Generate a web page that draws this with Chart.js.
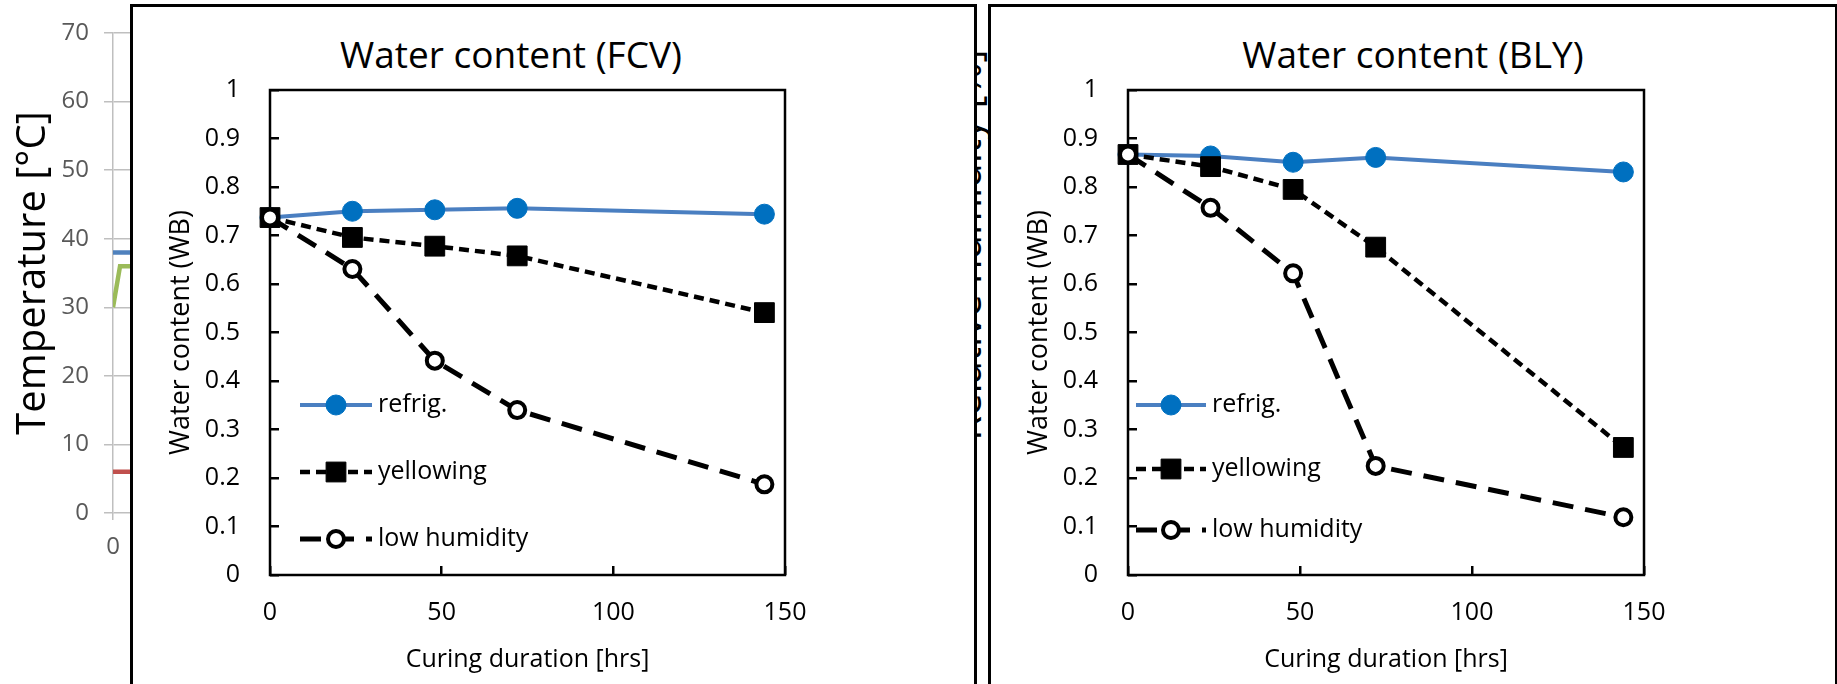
<!DOCTYPE html>
<html>
<head>
<meta charset="utf-8">
<script src="https://cdn.jsdelivr.net/npm/chart.js@4/dist/chart.umd.min.js"></script>
<style>
  body { margin: 0; width: 1837px; height: 684px; overflow: hidden; background: #fff; position: relative; font-family: 'Open Sans', sans-serif; }
  canvas { position: absolute; left: 0; top: 0; }
  .panel { position: absolute; top: 4px; height: 720px; border: 3px solid #000; box-sizing: border-box; background: #fff; }
  .title { position: absolute; top: 25px; width: 600px; text-align: center; font-size: 37px; line-height: 44px; color: #000; white-space: nowrap; }
  #rhLabel { position: absolute; left: 746px; top: 217px; width: 440px; height: 56px; line-height: 56px; font-size: 40px; text-align: center; color: #000; transform: rotate(-90deg); white-space: nowrap; }
</style>
</head>
<body>
<canvas id="tempChart" width="900" height="684"></canvas>
<div id="rhLabel">Relative humidity [%]</div>
<div class="panel" style="left:130px;width:847px">
  <div class="title" style="left:78px">Water content (FCV)</div>
  <canvas id="fcvChart" width="841" height="677"></canvas>
</div>
<div class="panel" style="left:988px;width:850px">
  <div class="title" style="left:122px">Water content (BLY)</div>
  <canvas id="blyChart" width="844" height="677"></canvas>
</div>
<script>
'use strict';

// curing time of each sample, hours
const hours = [0, 24, 48, 72, 144];

const fcvRefrig = [0.737, 0.750, 0.753, 0.756, 0.744];
const fcvYellowing = [0.737, 0.696, 0.678, 0.658, 0.541];
const fcvLowHumidity = [0.737, 0.631, 0.442, 0.340, 0.187];

const blyRefrig = [0.867, 0.864, 0.851, 0.861, 0.831];
const blyYellowing = [0.867, 0.842, 0.795, 0.676, 0.263];
const blyLowHumidity = [0.867, 0.757, 0.622, 0.225, 0.119];

const wcTicks = [0, 0.1, 0.2, 0.3, 0.4, 0.5, 0.6, 0.7, 0.8, 0.9, 1];
const hourTicks = [0, 50, 100, 150];

// chamber temperatures (back chart)
const tempTicks = [0, 10, 20, 30, 40, 50, 60, 70];
const tempHours = [0, 150];
const tempBlue = [38, 38];
const tempRed = [6, 6];
const greenHours = [0, 1.4, 150];
const tempGreen = [30, 36, 36];

Chart.defaults.font.family = "'Open Sans', sans-serif";
Chart.defaults.color = '#000';

function points(xs, ys) {
    return xs.map((x, i) => ({ x: x, y: ys[i] }));
}

// black box round the plot area
const frame = {
    id: 'frame',
    beforeDatasetsDraw(chart) {
        const a = chart.chartArea;
        const ctx = chart.ctx;
        ctx.save();
        ctx.lineWidth = 2.5;
        ctx.strokeStyle = '#000';
        ctx.strokeRect(a.left, a.top, a.right - a.left, a.bottom - a.top);
        ctx.restore();
    }
};

// legend drawn inside the plot, line sample + marker + name
const seriesKey = {
    id: 'seriesKey',
    afterDatasetsDraw(chart, args, opts) {
        const a = chart.chartArea;
        const ctx = chart.ctx;
        chart.data.datasets.forEach((ds, i) => {
            const y = a.bottom - opts.rows[i];
            const x0 = a.left + opts.x;
            const x1 = x0 + opts.len;
            ctx.save();
            ctx.strokeStyle = ds.borderColor;
            ctx.lineWidth = ds.borderWidth;
            ctx.setLineDash(ds.borderDash || []);
            ctx.beginPath();
            ctx.moveTo(x0, y);
            ctx.lineTo(x1, y);
            ctx.stroke();
            ctx.setLineDash([]);
            ctx.fillStyle = ds.pointBackgroundColor;
            ctx.strokeStyle = ds.pointBorderColor;
            ctx.lineWidth = ds.pointBorderWidth;
            Chart.helpers.drawPoint(ctx, {
                pointStyle: ds.pointStyle,
                radius: ds.pointRadius,
                borderWidth: ds.pointBorderWidth,
                rotation: 0
            }, (x0 + x1) / 2, y);
            ctx.fillStyle = '#000';
            ctx.font = "25px 'Open Sans', sans-serif";
            ctx.textBaseline = 'middle';
            ctx.fillText(ds.label, x1 + opts.gap, y);
            ctx.restore();
        });
    }
};

function waterDatasets(refrig, yellowing, lowHumidity) {
    return [{
        label: 'refrig.',
        data: points(hours, refrig),
        borderColor: '#4a7fc1',
        borderWidth: 4,
        pointStyle: 'circle',
        pointRadius: 10,
        pointBackgroundColor: '#0070c0',
        pointBorderColor: '#0070c0',
        pointBorderWidth: 1,
        order: 3,
        clip: false
    }, {
        label: 'yellowing',
        data: points(hours, yellowing),
        borderColor: '#000',
        borderWidth: 4.5,
        borderDash: [10, 6],
        pointStyle: 'rect',
        pointRadius: 14,
        pointBackgroundColor: '#000',
        pointBorderColor: '#000',
        pointBorderWidth: 1,
        order: 2,
        clip: false
    }, {
        label: 'low humidity',
        data: points(hours, lowHumidity),
        borderColor: '#000',
        borderWidth: 5,
        borderDash: [21, 12],
        pointStyle: 'circle',
        pointRadius: 8,
        pointBackgroundColor: '#fff',
        pointBorderColor: '#000',
        pointBorderWidth: 4,
        order: 1,
        clip: false
    }];
}

function waterChart(id, datasets, padRight, key) {
    return new Chart(document.getElementById(id), {
        type: 'line',
        data: { datasets: datasets },
        options: {
            responsive: false,
            animation: false,
            devicePixelRatio: 1,
            events: [],
            layout: { padding: { left: 0, top: 83, right: padRight, bottom: 0 } },
            scales: {
                x: {
                    type: 'linear',
                    min: 0,
                    max: 150,
                    afterBuildTicks: axis => { axis.ticks = hourTicks.map(v => ({ value: v })); },
                    afterFit: axis => { axis.height = 109; },
                    border: { display: false },
                    grid: { drawOnChartArea: false, drawTicks: true, tickLength: -9, color: '#000', lineWidth: 2.5 },
                    ticks: { padding: 32, font: { size: 25 }, callback: v => String(v) },
                    title: { display: true, text: 'Curing duration [hrs]', font: { size: 25 }, padding: { top: 0, bottom: 9 } }
                },
                y: {
                    min: 0,
                    max: 1,
                    afterBuildTicks: axis => { axis.ticks = wcTicks.map(v => ({ value: v })); },
                    afterFit: axis => { axis.width = 137; },
                    border: { display: false },
                    grid: { drawOnChartArea: false, drawTicks: true, tickLength: -9, color: '#000', lineWidth: 2.5 },
                    ticks: { padding: 39, font: { size: 25 }, callback: v => String(v) },
                    title: { display: true, text: 'Water content (WB)', font: { size: 27 }, padding: { top: 32, bottom: 0 } }
                }
            },
            plugins: {
                legend: { display: false },
                tooltip: { enabled: false },
                seriesKey: key
            }
        },
        plugins: [frame, seriesKey]
    });
}

// temperature chart sitting behind the two panels
new Chart(document.getElementById('tempChart'), {
    type: 'line',
    data: {
        datasets: [{
            data: points(tempHours, tempBlue),
            borderColor: '#4f81bd',
            borderWidth: 4.5,
            pointRadius: 0
        }, {
            data: points(greenHours, tempGreen),
            borderColor: '#9bbb59',
            borderWidth: 4.5,
            pointRadius: 0
        }, {
            data: points(tempHours, tempRed),
            borderColor: '#c0504d',
            borderWidth: 4.5,
            pointRadius: 0
        }]
    },
    options: {
        responsive: false,
        animation: false,
        devicePixelRatio: 1,
        events: [],
        layout: { padding: { left: 0, top: 33, right: 20, bottom: 0 } },
        scales: {
            x: {
                type: 'linear',
                min: 0,
                max: 150,
                afterBuildTicks: axis => { axis.ticks = hourTicks.map(v => ({ value: v })); },
                afterFit: axis => { axis.height = 171; },
                border: { display: false },
                grid: { drawOnChartArea: false, drawTicks: true, tickLength: 7, color: '#bfbfbf', lineWidth: 1.5 },
                ticks: { padding: 13, color: '#595959', font: { size: 24 }, callback: v => String(v) }
            },
            y: {
                min: 0,
                max: 70,
                afterBuildTicks: axis => { axis.ticks = tempTicks.map(v => ({ value: v })); },
                afterFit: axis => { axis.width = 113; },
                border: { color: '#bfbfbf', width: 1.5 },
                grid: { color: '#bfbfbf', lineWidth: 1.5, tickLength: 9 },
                ticks: { padding: 15, color: '#595959', font: { size: 24 }, callback: v => String(v) },
                title: { display: true, text: 'Temperature [°C]', font: { size: 40 }, padding: { top: 10, bottom: 0 } }
            }
        },
        plugins: { legend: { display: false }, tooltip: { enabled: false } }
    }
});

waterChart('fcvChart', waterDatasets(fcvRefrig, fcvYellowing, fcvLowHumidity), 189,
    { x: 30, len: 72, gap: 6, rows: [170, 103, 36] });
waterChart('blyChart', waterDatasets(blyRefrig, blyYellowing, blyLowHumidity), 191,
    { x: 8, len: 70, gap: 6, rows: [170, 106, 45] });
</script>
</body>
</html>
